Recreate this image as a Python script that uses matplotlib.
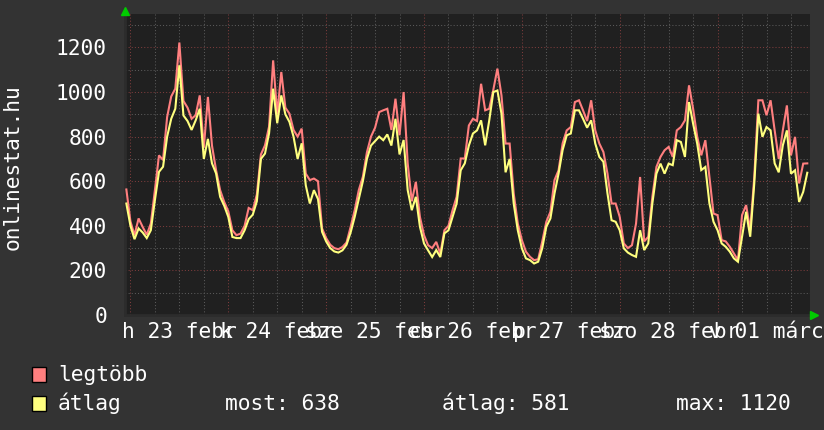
import numpy as np
import pandas as pd
import matplotlib
matplotlib.use("Agg")
import matplotlib.pyplot as plt
import matplotlib.dates as mdates
from matplotlib.ticker import MultipleLocator
from matplotlib.patches import Rectangle
from matplotlib.transforms import blended_transform_factory

# ---------------- data (hourly samples) ----------------
start_time = "2015-02-22 23:00"
legtobb = [563, 420, 358, 433, 395, 360, 410, 560, 716, 695, 888, 980, 1015, 1222, 960, 930,
           880, 896, 985, 750, 978, 760, 650, 560, 507, 465, 380, 358, 365, 400, 480, 470,
           540, 720, 761, 845, 1142, 900, 1090, 930, 903, 830, 800, 836, 634, 605, 612, 600,
           388, 345, 315, 300, 295, 305, 325, 395, 470, 560, 620, 730, 800, 840, 910, 918,
           925, 830, 970, 806, 1000, 680, 510, 597, 440, 358, 313, 300, 328, 275, 380, 400,
           470, 530, 702, 702, 850, 880, 870, 1037, 918, 925, 1010, 1105, 985, 769, 769, 545,
           410, 336, 284, 261, 246, 250, 330, 418, 463, 605, 649, 770, 828, 843, 955, 963,
           918, 870, 963, 828, 769, 731, 634, 500, 500, 440, 321, 300, 313, 410, 619, 330,
           351, 530, 664, 709, 739, 754, 709, 828, 843, 873, 1030, 925, 800, 716, 784, 619,
           455, 448, 336, 330, 306, 276, 246, 448, 493, 380, 619, 963, 963, 896, 963, 828,
           700, 828, 940, 716, 799, 590, 679, 680]
atlag = [500, 400, 340, 388, 370, 345, 380, 515, 642, 665, 800, 880, 925, 1120, 895, 870,
         830, 873, 925, 700, 790, 680, 635, 530, 490, 440, 350, 345, 345, 380, 430, 450,
         510, 700, 724, 815, 1015, 860, 985, 900, 866, 800, 700, 770, 582, 500, 560, 520,
         373, 330, 300, 285, 280, 290, 315, 370, 440, 520, 600, 700, 760, 780, 800, 784,
         810, 760, 880, 720, 785, 560, 470, 530, 396, 321, 290, 260, 291, 260, 366, 380,
         440, 500, 649, 680, 760, 814, 828, 873, 761, 873, 1000, 1007, 903, 640, 700, 500,
         380, 299, 254, 246, 231, 239, 300, 396, 433, 545, 634, 740, 806, 814, 918, 918,
         880, 840, 873, 769, 709, 687, 545, 425, 418, 380, 299, 280, 269, 261, 380, 291,
         321, 500, 634, 679, 634, 679, 672, 784, 776, 709, 955, 858, 769, 650, 664, 500,
         418, 380, 321, 306, 284, 254, 239, 351, 463, 351, 590, 903, 799, 843, 828, 680,
         640, 761, 828, 634, 649, 507, 552, 638]
y_ticks = [0, 200, 400, 600, 800, 1000, 1200]
day_labels = ["h 23 febr", "k 24 febr", "sze 25 febr", "cs 26 febr",
              "p 27 febr", "szo 28 febr", "v 01 márc"]
label_start = "2015-02-23 12:00"
series_names = ["legtöbb", "átlag"]
stat_names = ["most", "átlag", "max"]
stat_values = [638, 581, 1120]
y_title = "onlinestat.hu"

# ---------------- style ----------------
BG = "#333333"
PLOT_BG = "#202020"
RED = "#FF7F7F"
YEL = "#FFFF7F"
MAJ = "#7C3C3C"
MIN = "#5A5A5A"
FONT = "DejaVu Sans Mono"
FS = 15.3
W, H = 824, 430

plt.rcParams["font.family"] = [FONT, "DejaVu Sans"]

fig = plt.figure(figsize=(W / 100, H / 100), dpi=100, facecolor=BG)
ax = fig.add_axes([125 / W, 1 - 315 / H, 685 / W, 301 / H])
ax.set_facecolor(PLOT_BG)

times = pd.date_range(start_time, periods=len(atlag), freq="h")
ax.plot(times, legtobb, color=RED, lw=1.5, zorder=3, solid_joinstyle="miter")
ax.plot(times, atlag, color=YEL, lw=1.5, zorder=4, solid_joinstyle="miter")

ax.set_xlim(mdates.date2num(pd.Timestamp("2015-02-22 22:40")),
            mdates.date2num(pd.Timestamp("2015-03-01 22:40")))
ax.set_ylim(0, 1350)

ax.xaxis.set_major_locator(mdates.DayLocator())
ax.xaxis.set_minor_locator(mdates.HourLocator(byhour=[6, 12, 18]))
ax.yaxis.set_major_locator(MultipleLocator(200))
ax.yaxis.set_minor_locator(MultipleLocator(100))
ax.set_axisbelow(True)
ax.grid(which="major", color=MAJ, linestyle=(0, (1, 2)), lw=0.75)
ax.grid(which="minor", color=MIN, linestyle=(0, (1, 2)), lw=0.75)

ax.set_yticks(y_ticks)
ax.set_yticklabels([str(v) for v in y_ticks])
ax.tick_params(axis="y", which="both", length=0, pad=13, labelsize=FS, labelcolor="white")
ax.tick_params(axis="x", which="both", length=0, labelbottom=False)
for s in ["top", "right"]:
    ax.spines[s].set_visible(False)
ax.spines["left"].set_color("#2c2c2c")
ax.spines["bottom"].set_color("#2c2c2c")
ax.spines["left"].set_linewidth(2)
ax.spines["bottom"].set_linewidth(2)

# x labels centred at noon of each day (they overlap in the original as well)
trans = blended_transform_factory(ax.transData, fig.transFigure)
label_days = pd.date_range(label_start, periods=len(day_labels), freq="D")
for d, lab in zip(label_days, day_labels):
    ax.text(mdates.date2num(d), 1 - 338 / H, lab, transform=trans, ha="center",
            va="baseline", fontsize=FS, color="white", clip_on=False)

# vertical title
fig.text(13 / W, 1 - 167 / H, y_title, rotation=90, ha="center", va="center",
         fontsize=FS, color="white")

# green arrows
fig.add_artist(plt.Line2D([125 / W], [1 - 11 / H], marker="^", markersize=6,
                          color="#00CC00", transform=fig.transFigure, linestyle="none"))
fig.add_artist(plt.Line2D([814 / W], [1 - 315 / H], marker=">", markersize=6,
                          color="#00CC00", transform=fig.transFigure, linestyle="none"))

# legend
rows = [381, 410]
for name, col, yb in zip(series_names, [RED, YEL], rows):
    fig.patches.append(Rectangle((32 / W, 1 - (yb + 1) / H), 14 / W, 15 / H,
                                 transform=fig.transFigure, facecolor=col,
                                 edgecolor="black", lw=1))
    fig.text(58 / W, 1 - yb / H, name, fontsize=FS, color="white", va="baseline")

for nm, val, x in zip(stat_names, stat_values, [225, 442, 676]):
    fig.text(x / W, 1 - rows[1] / H, f"{nm}: {val}", fontsize=FS, color="white",
             va="baseline")

fig.savefig("out.png", dpi=100, facecolor=BG)
